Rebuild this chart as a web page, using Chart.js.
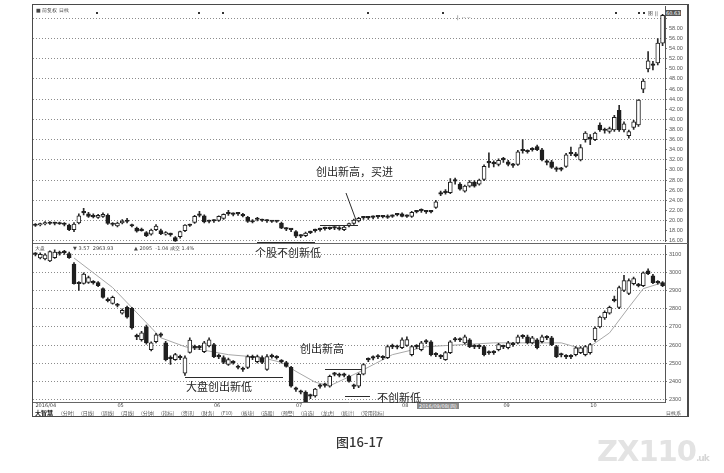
<!DOCTYPE html>
<html>
<head>
<meta charset="utf-8">
<script src="https://cdn.jsdelivr.net/npm/chart.js@4.4.1/dist/chart.umd.min.js"></script>
<style>
  html, body { margin: 0; padding: 0; background: #fff; }
  body { width: 724px; height: 473px; position: relative; overflow: hidden; font-family: "Noto Sans CJK SC", sans-serif; }
  #frame { position: absolute; left: 32px; top: 4px; width: 657px; height: 413px; border: 1px solid #4a4a4a; border-right-width: 2px; box-sizing: border-box; }
  canvas { position: absolute; }
  #cTop { left: 33px; top: 1px; }
  #cBot { left: 33px; top: 240px; }
  .note { position: absolute; font-size: 11px; color: #262626; white-space: nowrap; line-height: 11px; }
  .tiny { position: absolute; font-family: "DejaVu Sans", sans-serif; font-size: 5px; color: #444; white-space: nowrap; line-height: 6px; }
  .dot { position: absolute; width: 2px; height: 2px; background: #333; top: 12px; }
  #tabs { position: absolute; left: 35px; top: 410px; display: flex; font-size: 5px; line-height: 6px; color: #555; }
  #tabs span { width: 20px; }
  #tabs b { width: 26px; font-size: 6px; color: #222; }
  #caption { position: absolute; left: 336px; top: 432px; font-size: 13px; color: #333; font-weight: 500; }
  #mark { position: absolute; left: 597px; top: 434px; font: bold 29px "DejaVu Sans", sans-serif; color: #e3e3e3; letter-spacing: -1px; }
  #mark small { font-size: 9px; color: #d6d6d6; }
</style>
</head>
<body>
<div id="frame"></div>
<canvas id="cTop" width="656" height="246"></canvas>
<canvas id="cBot" width="656" height="180"></canvas>

<svg width="724" height="473" style="position:absolute;left:0;top:0">
  <line x1="33" y1="243.5" x2="688" y2="243.5" stroke="#666" stroke-width="1"/>
  <g stroke="#2b2b2b" stroke-width="1" fill="none">
    <line x1="320" y1="225.5" x2="358" y2="225.5"/>
    <line x1="346" y1="193" x2="356" y2="220"/>
    <line x1="257" y1="242.5" x2="315" y2="242.5"/>
    <line x1="185" y1="377.5" x2="283" y2="377.5"/>
    <line x1="325" y1="369.5" x2="362" y2="369.5"/>
    <line x1="345" y1="396.5" x2="370" y2="396.5"/>
  </g>
</svg>

<div class="tiny" style="left:36px;top:7px;">■ 前复权 日线</div>
<div class="dot" style="left:96px"></div>
<div class="dot" style="left:198px"></div>
<div class="dot" style="left:222px"></div>
<div class="dot" style="left:367px"></div>
<div class="dot" style="left:442px"></div>
<div class="dot" style="left:615px"></div>
<div class="dot" style="left:638px"></div>
<div class="dot" style="left:643px"></div>
<div class="tiny" style="left:457px;top:14px;">| &nbsp;-- --</div>
<div class="tiny" style="left:648px;top:10px;">图 ||</div>
<div class="tiny" style="left:35px;top:245px;">大盘</div>
<div class="tiny" style="left:73px;top:245px;">▼ 3.57 &nbsp;2963.93</div>
<div class="tiny" style="left:134px;top:245px;">▲ 2095 &nbsp;-1.04 成交 1.4%</div>
<div class="tiny" style="left:665px;top:10px;background:#555;color:#fff;padding:0 1px;">60.63</div>
<div class="tiny" style="left:417px;top:403px;background:#8a8a8a;color:#fff;padding:0 2px;">2016/09/08(四)</div>
<div class="tiny" style="left:666px;top:410px;">日线系</div>

<div id="tabs"><b>大智慧</b><span>(分时)</span><span>(日线)</span><span>(周线)</span><span>(月线)</span><span>(分钟)</span><span>(指标)</span><span>(资讯)</span><span>(财务)</span><span>(F10)</span><span>(板块)</span><span>(选股)</span><span>(预警)</span><span>(自选)</span><span>(龙虎)</span><span>(统计)</span><span style="width:30px">(常用指标)</span></div>

<div class="note" style="left:316px;top:166px;">创出新高，买进</div>
<div class="note" style="left:255px;top:247px;">个股不创新低</div>
<div class="note" style="left:186px;top:381px;">大盘创出新低</div>
<div class="note" style="left:300px;top:343px;">创出新高</div>
<div class="note" style="left:377px;top:392px;">不创新低</div>
<div id="caption">图16-17</div>
<div id="mark">ZX110<small>.uk</small></div>

<script>
// 个股日K线
const stockOpen = [19.0,19.1,19.3,19.5,19.4,19.4,19.3,19.1,18.2,19.5, 21.5,21.3,21.0,20.6,20.8,21.0,19.2,18.9,19.5,19.8,
  19.0,18.5,18.3,17.6,17.3,18.2,18.0,17.3,17.2,16.6, 16.8,18.0,19.0,19.6,21.0,20.9,19.8,19.9,20.0,20.4,
  21.3,21.2,21.3,21.2,20.6,20.0,20.2,20.0,19.9,19.8, 19.8,19.5,18.3,18.2,17.8,16.9,17.0,17.6,18.0,18.2,
  18.4,18.4,18.5,18.6,18.2,18.9,19.4,19.9,20.5,20.5, 20.6,20.7,20.7,20.9,20.8,21.1,21.3,20.8,20.8,21.7,
  21.9,21.7,21.7,22.6,25.2,25.5,25.5,27.8,27.2,25.8, 26.8,27.6,27.2,28.1,31.4,31.2,31.1,32.0,31.6,30.9,
  31.1,33.8,33.6,34.0,34.6,34.0,31.5,31.6,30.1,30.1, 30.7,33.2,33.2,32.0,36.0,36.2,36.0,38.9,37.8,37.6,
  37.9,41.8,37.9,36.8,38.4,38.9,46.0,50.0,50.7,51.2, 55.1];
const stockHigh = [19.4,19.5,19.8,19.8,19.7,19.7,19.6,19.3,19.6,21.3, 22.4,21.6,21.3,21.2,21.5,21.3,19.6,19.7,20.2,20.4,
  19.3,18.7,18.5,17.8,18.3,19.2,18.3,17.8,17.5,16.8, 17.9,19.2,19.3,21.0,21.8,21.1,20.1,20.2,20.9,21.3,
  22.0,21.5,21.6,21.4,20.8,20.2,20.6,20.3,20.2,20.0, 20.0,19.7,18.6,18.4,18.0,17.2,17.7,17.9,18.3,18.5,
  18.7,18.7,18.8,18.8,18.9,19.5,20.3,20.6,20.8,20.8, 20.9,21.0,21.0,21.1,21.1,21.4,21.5,21.1,21.8,22.0,
  22.3,22.0,22.0,24.0,25.8,26.1,28.3,28.4,27.5,27.0, 27.9,27.9,28.2,31.0,33.4,31.8,32.2,32.5,31.9,31.3,
  33.9,36.0,34.0,34.4,34.9,34.3,32.0,31.9,30.6,30.5, 33.3,34.5,33.5,35.0,37.6,37.0,37.5,39.3,38.3,38.5,
  40.8,42.8,39.5,37.9,39.8,43.9,48.0,53.4,51.5,56.0, 60.8];
const stockLow = [18.8,18.9,19.1,19.2,19.1,19.2,18.9,18.0,17.8,19.3, 21.1,20.6,20.5,20.4,20.6,19.2,18.9,18.7,19.3,19.5,
  18.7,17.7,17.9,16.8,17.1,18.0,17.2,17.1,16.9,15.7, 16.5,17.8,18.8,19.4,20.7,19.5,19.5,19.6,19.8,20.2,
  21.0,20.9,21.0,20.7,19.6,19.5,19.9,19.8,19.6,19.6, 19.6,18.4,18.0,17.8,16.6,16.6,16.8,17.4,17.7,17.9,
  18.1,18.2,18.2,18.1,18.0,18.7,19.2,19.7,20.2,20.2, 20.3,20.4,20.5,20.4,20.6,20.9,20.7,20.6,20.6,21.5,
  21.6,21.4,21.5,22.4,24.9,25.2,25.3,27.2,26.0,25.6, 26.6,26.6,27.0,27.9,30.5,30.6,30.8,31.5,30.8,30.5,
  30.9,33.3,33.3,33.7,33.8,31.8,31.0,30.3,29.7,29.8, 30.5,32.8,32.6,31.8,35.5,35.0,35.8,37.6,37.3,37.3,
  37.6,37.6,37.5,36.3,38.0,38.6,45.3,49.4,49.8,50.8, 54.6];
const stockClose = [19.1,19.3,19.5,19.4,19.5,19.3,19.2,18.2,19.3,20.9, 21.6,20.8,20.7,21.0,21.2,19.4,19.3,19.5,19.9,19.8,
  18.9,17.9,18.0,17.0,18.1,18.9,17.4,17.6,17.2,15.9, 17.8,19.1,19.1,20.8,21.0,19.7,19.8,19.9,20.8,21.2,
  21.3,21.2,21.3,20.9,19.8,19.7,20.2,20.1,19.9,19.8, 19.8,18.5,18.3,18.2,16.9,16.9,17.5,17.7,18.0,18.2,
  18.4,18.4,18.5,18.3,18.7,19.4,20.1,20.4,20.5,20.5, 20.6,20.7,20.8,20.6,20.9,21.2,20.8,20.9,21.6,21.8,
  21.9,21.7,21.8,23.7,25.3,25.6,27.6,27.8,26.2,26.8, 27.6,26.8,28.0,30.7,31.5,31.2,31.9,32.0,31.1,30.9,
  33.6,33.8,33.7,34.1,34.0,32.0,31.5,30.5,30.1,30.1, 33.0,33.2,32.8,34.4,37.3,36.2,37.3,37.9,37.8,38.2,
  40.4,37.9,39.1,37.6,39.5,43.8,47.6,51.6,50.8,55.1, 60.6];

// 大盘日K线
const idxOpen = [3100,3080,3075,3064,3082,3105,3112,3105,3047,2940, 2940,2946,2945,2944,2911,2848,2830,2820,2776,2808,
  2803,2648,2629,2700,2574,2618,2656,2612,2530,2520, 2533,2445,2560,2590,2585,2564,2595,2602,2538,2531,
  2493,2505,2478,2467,2477,2530,2509,2531,2466,2536, 2532,2510,2504,2477,2358,2342,2341,2318,2320,2372,
  2378,2373,2438,2434,2433,2428,2375,2373,2440,2518, 2528,2534,2532,2531,2590,2588,2585,2598,2547,2590,
  2574,2618,2618,2548,2537,2520,2558,2628,2630,2612, 2629,2590,2592,2591,2556,2558,2574,2592,2585,2602,
  2612,2646,2646,2612,2629,2618,2640,2640,2591,2547, 2537,2535,2547,2558,2547,2558,2629,2700,2749,2776,
  2845,2808,2901,2884,2939,2930,2928,3009,2982,2945, 2944];
const idxHigh = [3110,3108,3105,3120,3125,3118,3122,3112,3055,2950, 2998,2980,2955,2950,2915,2860,2870,2830,2800,2815,
  2808,2660,2675,2710,2618,2665,2668,2620,2540,2555, 2545,2540,2640,2600,2598,2620,2640,2610,2550,2540,
  2528,2515,2490,2478,2545,2545,2545,2540,2548,2550, 2542,2520,2510,2482,2368,2352,2348,2330,2362,2385,
  2390,2435,2450,2445,2446,2435,2385,2445,2498,2530, 2540,2548,2542,2600,2605,2600,2640,2645,2598,2602,
  2620,2630,2625,2558,2548,2565,2625,2642,2640,2655, 2636,2602,2602,2598,2568,2570,2610,2600,2620,2615,
  2655,2658,2655,2648,2636,2655,2652,2648,2598,2556, 2548,2548,2592,2592,2598,2610,2700,2760,2788,2815,
  2870,2925,2985,2965,2975,2940,3004,3020,2990,2955, 2950];
const idxLow = [3092,3075,3070,3060,3078,3095,3100,3078,2935,2901, 2935,2940,2935,2922,2858,2838,2825,2810,2770,2748,
  2688,2630,2622,2605,2568,2612,2645,2512,2493,2515, 2520,2432,2555,2575,2575,2558,2590,2530,2525,2498,
  2488,2495,2468,2455,2470,2520,2502,2498,2460,2528, 2522,2500,2478,2368,2345,2330,2270,2305,2312,2362,
  2368,2368,2430,2424,2424,2395,2360,2365,2435,2508, 2518,2525,2520,2525,2580,2578,2580,2592,2540,2580,
  2568,2608,2540,2536,2525,2515,2552,2620,2618,2606, 2585,2580,2580,2540,2548,2548,2568,2580,2578,2592,
  2606,2636,2606,2606,2578,2612,2630,2596,2530,2535, 2525,2525,2540,2552,2540,2550,2620,2695,2742,2770,
  2838,2800,2895,2878,2932,2920,2922,2988,2938,2935, 2922];
const idxClose = [3102,3100,3098,3115,3112,3108,3110,3082,2939,2938, 2992,2972,2943,2928,2863,2845,2863,2818,2792,2754,
  2694,2645,2667,2612,2612,2656,2653,2520,2525,2547, 2530,2530,2628,2585,2588,2612,2629,2536,2535,2504,
  2520,2503,2476,2465,2536,2532,2536,2504,2536,2538, 2530,2509,2482,2373,2356,2340,2285,2320,2357,2374,
  2380,2428,2440,2432,2435,2400,2372,2439,2492,2520, 2530,2536,2530,2591,2592,2590,2629,2630,2591,2592,
  2612,2616,2547,2546,2535,2558,2618,2630,2628,2646, 2591,2592,2590,2547,2558,2560,2602,2590,2612,2604,
  2646,2648,2612,2640,2585,2646,2642,2602,2536,2545, 2535,2537,2585,2585,2591,2602,2694,2754,2781,2808,
  2847,2917,2955,2955,2966,2928,2998,2993,2944,2943, 2928];

// 大盘均线（读出的几个点）
const maDays = [8, 16, 26, 31, 40, 47, 51, 54, 58, 61, 67, 74, 81, 95, 109, 114, 119, 123, 126, 130];
const maValues = [3080, 2917, 2640, 2591, 2547, 2531, 2504, 2455, 2395, 2375, 2450, 2547, 2591, 2612, 2612, 2574, 2667, 2808, 2911, 2944];

// 坐标轴
const stockTicks = [16,18,20,22,24,26,28,30,32,34,36,38,40,42,44,46,48,50,52,54,56,58,60];
const indexTicks = [2300,2350,2400,2450,2500,2550,2600,2650,2700,2750,2800,2850,2900,2950,3000,3050,3100,3150];
const monthTicks = ['2016/04','05','06','07','08','09','10'];
const monthStarts = [0, 17, 37, 54, 76, 97, 115];

const days = stockOpen.map((_, i) => i);
const idxMA = days.map(() => null);
maDays.forEach((d, k) => { idxMA[d] = maValues[k]; });

// 影线 + 实体（空心阳线，实心阴线）
function candles(o, h, l, c, flat) {
    return [
        {
            data: days.map(i => [l[i], h[i]]),
            backgroundColor: '#2a2a2a',
            barThickness: 1,
            grouped: false,
            order: 2
        },
        {
            data: days.map(i => [o[i], c[i]]),
            backgroundColor: ctx => (c[ctx.dataIndex] - o[ctx.dataIndex] > flat) ? '#ffffff' : '#1f1f1f',
            borderColor: '#1f1f1f',
            borderWidth: 1,
            borderSkipped: false,
            barThickness: 4,
            minBarLength: 1.5,
            grouped: false,
            order: 1
        }
    ];
}

function yAxis(min, max, ticks, gridEvery, fmt) {
    return {
        position: 'right',
        min: min,
        max: max,
        afterFit: s => { s.width = 24; },
        afterBuildTicks: s => { s.ticks = ticks.map(v => ({ value: v })); },
        ticks: {
            font: { size: 5.5, family: 'Liberation Sans' },
            color: '#555',
            padding: 2,
            callback: fmt
        },
        grid: {
            color: ctx => (ctx.tick && ctx.tick.value % gridEvery === 0) ? '#8c8c8c' : 'rgba(0,0,0,0)',
            tickColor: '#777',
            tickLength: 2
        },
        border: { display: true, color: '#555', dash: [1, 2] }
    };
}

Chart.defaults.animation = false;
Chart.defaults.plugins.legend.display = false;
Chart.defaults.plugins.tooltip.enabled = false;

new Chart(document.getElementById('cTop'), {
    type: 'bar',
    data: {
        labels: days,
        datasets: candles(stockOpen, stockHigh, stockLow, stockClose, 0.15)
    },
    options: {
        responsive: false,
        layout: { padding: { top: 4, bottom: 4, left: 0, right: 0 } },
        scales: {
            x: { display: false },
            y: yAxis(15.8, 62.38, stockTicks, 4, v => v === 60 ? '' : v.toFixed(2))
        }
    }
});

new Chart(document.getElementById('cBot'), {
    type: 'bar',
    data: {
        labels: days,
        datasets: [
            ...candles(idxOpen, idxHigh, idxLow, idxClose, 4),
            {
                type: 'line',
                data: idxMA,
                borderColor: '#a8a8a8',
                borderWidth: 1,
                pointRadius: 0,
                spanGaps: true,
                order: 3
            }
        ]
    },
    options: {
        responsive: false,
        layout: { padding: { top: 4, bottom: 10, left: 0, right: 0 } },
        scales: {
            x: {
                grid: { display: false, drawTicks: false },
                border: { display: true, color: '#666' },
                ticks: {
                    autoSkip: false,
                    maxRotation: 0,
                    align: 'start',
                    padding: 1,
                    font: { size: 5, family: 'DejaVu Sans' },
                    color: '#444',
                    callback: (v, i) => {
                        const k = monthStarts.indexOf(i);
                        return k < 0 ? '' : monthTicks[k];
                    }
                }
            },
            y: yAxis(2286, 3150, indexTicks, 100, v => String(v))
        }
    }
});
</script>
</body>
</html>
